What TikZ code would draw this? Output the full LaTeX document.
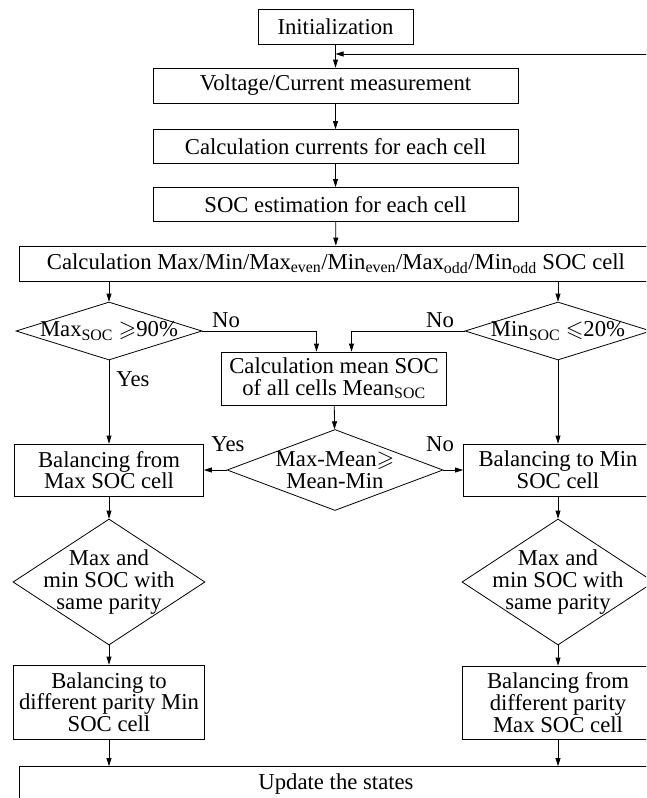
\documentclass[tikz,border=0pt]{standalone}
\usepackage{fontspec}
\setmainfont{Liberation Serif}
\usepackage{amsmath,amssymb}
\usetikzlibrary{arrows.meta,positioning}
\usetikzlibrary{shapes.geometric}
\tikzset{stepbox/.style={rectangle,draw,inner sep=0pt,align=center}}
\tikzset{decision/.style={diamond,draw,inner sep=0pt}}
\tikzset{lbl/.style={inner sep=0pt}}
\newcommand{\Ssub}[1]{\textsubscript{#1}}

\begin{document}
\begin{tikzpicture}[x=1pt,y=-1pt,line width=0.8pt,font=\fontsize{22.7}{21.7}\selectfont,>={Triangle[length=8pt,width=5pt]}]
\useasboundingbox (0,0) rectangle (646,798);
\clip (0,0) rectangle (646,798);
% \draw[help lines] (0,0) grid (646,798);
\node (init) [stepbox,minimum width=155pt,minimum height=35pt] at (335.5,26.5) {Initialization};
\node (volt) [stepbox,minimum width=365pt,minimum height=35pt] at (335.5,85.5) {Voltage/Current measurement};
\node (curr) [stepbox,minimum width=365pt,minimum height=34pt] at (335.5,146.5) {Calculation currents for each cell};
\node (soce) [stepbox,minimum width=365pt,minimum height=34pt] at (335.5,204.5) {SOC estimation for each cell};
\node (calc) [stepbox,minimum width=634pt,minimum height=35pt] at (336,263.5) {Calculation Max/Min/Max\Ssub{even}/Min\Ssub{even}/Max\Ssub{odd}/Min\Ssub{odd} SOC cell};
\node (dmax) [decision,minimum width=186pt,minimum height=58pt,label={center:Max\Ssub{SOC} $\geqslant$90\%}] at (109,331) {};
\node (dmin) [decision,minimum width=186pt,minimum height=58pt,label={center:Min\Ssub{SOC} $\leqslant$20\%}] at (558,331) {};
\node (mean) [stepbox,minimum width=225pt,minimum height=53pt] at (334,378.5) {Calculation mean SOC\\of all cells Mean\Ssub{SOC}};
\node (dcmp) [decision,minimum width=216pt,minimum height=81pt,label={[align=center]center:Max-Mean$\geqslant$\\Mean-Min}] at (335,470) {};
\node (bfrom) [stepbox,minimum width=189pt,minimum height=52pt] at (109,470) {Balancing from\\Max SOC cell};
\node (bto) [stepbox,minimum width=189pt,minimum height=52pt] at (558,470) {Balancing to Min\\SOC cell};
\node (dparl) [decision,minimum width=192pt,minimum height=126pt,label={[align=center]center:Max and\\min SOC with\\same parity}] at (109,582) {};
\node (dparr) [decision,minimum width=192pt,minimum height=126pt,label={[align=center]center:Max and\\min SOC with\\same parity}] at (558,582) {};
\node (bdifl) [stepbox,minimum width=191pt,minimum height=74pt] at (109,702) {Balancing to\\different parity Min\\SOC cell};
\node (bdifr) [stepbox,minimum width=191pt,minimum height=73pt] at (558,702.5) {Balancing from\\different parity\\Max SOC cell};
\node (upd) [stepbox,minimum width=634pt,minimum height=35pt] at (336,784) {Update the states};
\coordinate (back) at (660,54);
%
\node (no1) [lbl] at (226,320) {No};
\node (no2) [lbl] at (440,320) {No};
\node (yes1) [lbl] at (133,379) {Yes};
\node (yes2) [lbl] at (228,444) {Yes};
\node (no3) [lbl] at (440,444) {No};
%
\path[->](init) edge (volt);
\draw[->](back) -- (back -| init.south);
\path[->](volt) edge (curr);
\path[->](curr) edge (soce);
\path[->](soce) edge (calc);
\path[->](calc.south -| dmax.north) edge (dmax.north);
\path[->](calc.south -| dmin.north) edge (dmin.north);
\draw[->](dmax.east) -| ([xshift=-17.5pt]mean.north);
\draw[->](dmin.west) -| ([xshift=17.5pt]mean.north);
\path[->](dmax) edge (bfrom);
\path[->](dmin) edge (bto);
\path[->](mean) edge (dcmp);
\path[->](dcmp.west) edge (bfrom.east);
\path[->](dcmp.east) edge (bto.west);
\path[->](bfrom) edge (dparl);
\path[->](bto) edge (dparr);
\path[->](dparl) edge (bdifl);
\path[->](dparr) edge (bdifr);
\path[->](bdifl.south) edge (bdifl.south |- upd.north);
\path[->](bdifr.south) edge (bdifr.south |- upd.north);
\end{tikzpicture}
\end{document}
